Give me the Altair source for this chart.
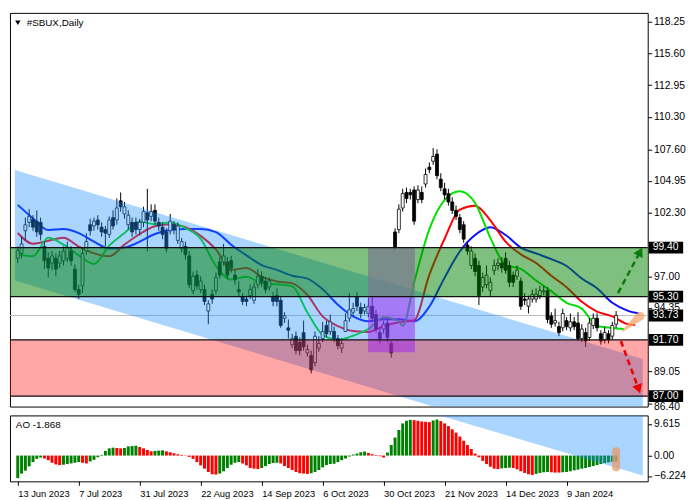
import altair as alt
import pandas as pd

FONT = "Liberation Sans"
FS = 10.5
W = 648
H_MAIN = 400
H_AO = 67

title_text = "#SBUX,Daily"
ao_text = "AO -1.868"
date_labels = ["13 Jun 2023", "7 Jul 2023", "31 Jul 2023", "22 Aug 2023", "14 Sep 2023",
               "6 Oct 2023", "30 Oct 2023", "21 Nov 2023", "14 Dec 2023", "9 Jan 2024"]
date_ticks = [0, 16, 32, 48, 64, 80, 96, 112, 128, 144]

price_ticks = [118.25, 115.60, 112.95, 110.30, 107.60, 104.95, 102.30, 97.00, 94.35, 89.05, 86.40]
ao_ticks = [9.615, 0.0, -6.224]

open_ = [98.5, 98.9, 100.8, 101.5, 101.75, 101.6, 101.5, 99.5, 98.5, 98.1,
         98.5, 98.1, 98.3, 98.5, 99.1, 97.6, 95.9, 96.2, 99.1, 101.3,
         101.2, 101.7, 101.1, 100.9, 100.5, 101.9, 101.7, 103.3, 102.2, 101.3,
         101.5, 101.5, 100.9, 101.5, 102.3, 102.0, 102.5, 101.5, 101.1, 100.7,
         100.8, 101.3, 100.0, 99.3, 99.5, 98.7, 95.8, 97.1, 95.9, 95.9,
         94.1, 95.5, 95.8, 98.2, 98.2, 98.2, 98.3, 97.1, 95.9, 95.3,
         95.1, 95.4, 95.0, 96.3, 97.0, 96.6, 96.1, 95.3, 95.4, 95.0,
         93.5, 92.7, 91.3, 92.0, 91.5, 92.3, 90.6, 90.4, 89.8, 91.0,
         91.8, 92.9, 92.4, 92.4, 91.8, 91.0, 92.4, 93.5, 94.0, 95.3,
         94.4, 94.1, 93.9, 94.5, 93.8, 92.3, 92.6, 93.1, 91.4, 100.7,
         100.9, 102.7, 104.0, 104.0, 104.2, 103.4, 104.0, 104.7, 106.1, 106.6,
         107.2, 105.1, 104.3, 103.9, 103.2, 102.5, 101.9, 101.3, 99.6, 97.9,
         98.5, 97.9, 96.1, 96.3, 95.8, 97.5, 97.9, 98.1, 98.5, 97.9,
         97.1, 97.0, 96.6, 95.1, 94.5, 95.1, 95.1, 95.4, 95.7, 95.8,
         93.7, 93.1, 92.8, 92.7, 93.3, 92.7, 93.2, 93.1, 91.8, 92.3,
         91.9, 92.9, 93.5, 92.2, 91.7, 92.2, 92.0, 93.0]
close_ = [99.15, 99.7, 101.3, 102.0, 101.1, 100.7, 100.5, 98.3, 97.7, 98.7,
          97.6, 98.7, 99.1, 99.4, 98.3, 95.9, 95.5, 98.9, 99.9, 100.8,
          101.6, 101.3, 100.7, 100.6, 101.7, 101.2, 102.7, 102.8, 102.8, 102.1,
          100.7, 100.9, 101.5, 102.4, 101.7, 102.4, 101.6, 101.2, 100.5, 99.3,
          101.6, 100.9, 101.2, 99.9, 98.8, 96.3, 97.0, 96.2, 96.6, 94.9,
          94.7, 95.1, 96.9, 97.1, 98.7, 97.1, 97.7, 96.7, 95.7, 94.9,
          94.9, 95.9, 96.1, 97.0, 96.5, 95.9, 96.6, 94.9, 94.9, 92.9,
          93.7, 92.5, 91.8, 90.8, 90.8, 91.1, 90.9, 89.2, 92.0, 91.4,
          92.4, 92.2, 93.2, 91.8, 91.2, 91.4, 93.3, 94.2, 94.3, 94.5,
          93.9, 94.4, 94.5, 93.5, 92.6, 91.8, 93.0, 91.9, 90.6, 99.4,
          102.6, 103.9, 103.5, 103.8, 101.6, 104.2, 103.4, 105.5, 105.9, 107.0,
          105.4, 104.4, 103.8, 103.2, 102.5, 102.0, 100.9, 100.1, 99.1, 99.1,
          97.4, 95.4, 96.9, 97.1, 96.5, 97.9, 98.1, 97.7, 97.5, 96.5,
          96.5, 97.5, 94.5, 95.0, 95.1, 95.5, 95.5, 95.8, 95.8, 93.4,
          93.0, 93.3, 92.3, 93.9, 92.8, 93.2, 92.8, 91.8, 92.6, 91.6,
          93.1, 93.5, 92.7, 91.6, 92.3, 91.7, 92.9, 93.73]
high_ = [99.5, 100.3, 101.9, 102.6, 102.1, 102.5, 101.9, 99.9, 99.0, 99.1,
         98.9, 99.1, 99.5, 99.9, 99.5, 98.0, 96.3, 99.4, 100.6, 101.8,
         101.9, 102.1, 101.5, 101.2, 102.0, 102.5, 103.5, 104.0, 103.2, 102.5,
         101.9, 101.9, 101.8, 102.8, 104.3, 103.0, 103.0, 101.9, 101.5, 101.0,
         102.2, 101.6, 101.5, 100.2, 99.9, 99.1, 97.4, 97.5, 97.0, 96.3,
         95.0, 95.9, 97.3, 98.6, 99.7, 98.6, 98.7, 97.5, 96.6, 95.6,
         95.4, 96.3, 96.5, 97.6, 97.4, 96.9, 96.9, 95.7, 96.0, 95.3,
         94.0, 93.4, 92.2, 92.4, 91.9, 93.3, 91.3, 90.8, 92.4, 92.0,
         93.2, 93.3, 93.8, 92.8, 92.1, 91.8, 93.9, 95.6, 94.8, 95.7,
         94.8, 94.7, 95.2, 95.3, 94.2, 92.7, 93.3, 93.5, 91.6, 101.0,
         103.0, 104.3, 104.4, 104.3, 104.5, 104.6, 104.5, 106.0, 106.5, 107.7,
         107.6, 105.6, 104.8, 104.3, 103.6, 102.9, 102.2, 101.6, 99.9, 99.5,
         98.9, 98.3, 97.3, 97.9, 96.9, 98.4, 98.5, 98.6, 99.0, 98.3,
         97.4, 97.9, 96.9, 95.6, 95.4, 95.9, 96.0, 96.2, 96.2, 96.1,
         94.0, 94.3, 93.2, 94.3, 93.6, 93.9, 93.6, 94.0, 93.0, 92.7,
         93.5, 93.9, 93.9, 92.5, 92.8, 92.5, 93.2, 94.1]
low_ = [98.1, 98.5, 100.0, 101.1, 100.8, 100.3, 100.0, 97.6, 96.9, 97.5,
        97.0, 97.7, 97.9, 98.2, 97.9, 95.7, 95.1, 95.6, 98.8, 100.4,
        100.8, 100.9, 100.3, 99.5, 100.2, 100.9, 101.3, 102.4, 101.8, 100.9,
        100.3, 100.5, 100.4, 101.1, 99.1, 101.6, 101.3, 100.8, 100.1, 99.0,
        100.5, 100.5, 99.7, 99.0, 98.4, 96.0, 95.5, 95.9, 95.6, 94.6,
        93.0, 94.7, 95.5, 96.8, 97.9, 96.8, 97.3, 96.3, 95.3, 94.6,
        94.5, 95.1, 94.7, 96.0, 96.1, 95.6, 95.8, 94.5, 94.5, 92.7,
        93.1, 91.8, 91.0, 90.5, 90.4, 90.8, 90.3, 88.9, 89.5, 90.7,
        91.5, 91.9, 92.1, 91.5, 90.9, 90.6, 92.4, 93.2, 93.7, 94.1,
        93.5, 93.8, 93.6, 93.2, 92.3, 91.4, 92.2, 91.5, 90.2, 99.2,
        100.6, 102.4, 103.1, 103.4, 101.3, 103.1, 103.1, 104.4, 105.6, 106.3,
        105.1, 104.1, 103.4, 102.9, 102.2, 101.7, 100.6, 99.8, 98.8, 97.6,
        97.0, 94.6, 95.7, 96.0, 95.3, 97.1, 97.5, 97.3, 97.2, 96.1,
        96.1, 96.7, 94.2, 94.6, 93.9, 94.8, 94.8, 95.1, 95.4, 93.1,
        92.7, 92.8, 92.0, 92.4, 92.5, 92.4, 92.5, 91.6, 91.5, 91.1,
        91.6, 92.6, 92.4, 91.3, 91.4, 91.4, 91.7, 92.7]

ao_values = [-6.9, -5.5, -4.6, -3.3, -2.0, -1.0, -0.6, -0.9, -1.4, -2.2,
             -2.7, -2.9, -2.8, -2.6, -2.4, -2.2, -2.0, -2.2, -2.4, -1.8,
             -1.3, -0.5, 0.2, 1.4, 2.2, 2.4, 2.3, 2.2, 2.3, 2.8,
             2.9, 3.0, 2.6, 2.2, 1.7, 1.3, 1.4, 1.5, 1.6, 1.3,
             1.0, 0.7, 0.4, 0.2, -0.1, -0.4, -1.0, -2.0, -3.0, -4.0,
             -5.0, -5.7, -5.8, -5.5, -4.8, -3.8, -2.8, -2.2, -2.0, -2.4,
             -3.0, -3.8, -4.0, -4.1, -3.8, -3.2, -2.6, -2.3, -2.2, -2.4,
             -3.2, -3.8, -4.4, -5.0, -5.4, -5.5, -5.6, -5.4, -5.0, -4.4,
             -3.6, -2.9, -2.6, -2.5, -2.0, -1.4, -0.9, -0.3, 0.3, 0.6,
             1.0, 1.2, 0.8, 0.4, 0.2, -0.2, -0.6, 0.9, 3.2, 5.5,
             7.8, 9.8, 10.6, 10.9, 10.8, 10.6, 10.4, 10.3, 10.2, 10.7,
             11.0, 10.5, 9.8, 9.0, 8.0, 7.0, 5.8, 4.5, 3.2, 2.0,
             0.6, -0.5, -1.6, -2.6, -3.4, -4.0, -4.1, -3.9, -3.8, -3.7,
             -3.8, -4.2, -4.8, -5.3, -5.7, -5.9, -5.6, -5.3, -5.1, -5.0,
             -5.1, -5.2, -5.2, -5.1, -5.0, -4.8, -4.5, -4.3, -4.0, -3.8,
             -3.5, -3.2, -2.9, -2.6, -2.3, -2.1, -1.9, -1.868]

jaw_i = list(range(0, 161, 4)) + [163]
jaw_v = [102.96, 101.83, 100.86, 100.94, 100.61, 99.89, 99.32, 99.40, 99.89, 100.53,
         100.86, 100.94, 100.94, 100.69, 99.64, 98.75, 97.94, 97.54, 97.05, 96.81,
         95.92, 94.63, 93.66, 93.25, 93.41, 93.41, 93.25, 94.47, 96.89, 99.08,
         100.45, 101.10, 100.45, 99.40, 98.91, 98.43, 97.86, 96.81, 96.00, 94.79,
         94.14, 93.90]
teeth_i = list(range(0, 161, 4)) + [162]
teeth_v = [100.61, 99.72, 99.97, 100.21, 99.48, 98.91, 98.67, 99.64, 100.53, 101.18,
           101.34, 101.10, 100.37, 99.24, 97.54, 97.70, 96.97, 96.57, 96.41, 95.44,
           93.66, 92.85, 92.44, 92.36, 92.85, 93.17, 93.33, 97.14, 100.13, 102.56,
           102.88, 101.67, 99.89, 98.83, 98.11, 97.05, 96.08, 94.87, 94.06, 93.66,
           93.01, 92.93]
lips_i = list(range(0, 101, 4)) + [101] + list(range(104, 157, 4)) + [159]
lips_v = [98.83, 98.67, 100.21, 99.64, 98.75, 98.02, 99.56, 100.61, 101.58, 101.34,
          101.50, 101.02, 100.13, 97.86, 96.73, 96.97, 96.41, 96.33, 96.16, 93.98,
          92.12, 91.71, 92.04, 92.60, 93.58, 93.25, 92.85, 96.49, 100.94, 103.36,
          104.09, 103.12, 100.21, 97.94, 97.62, 96.65, 95.76, 94.79, 94.30, 92.85,
          92.69, 92.60]

# annotation levels and zones (price units)
level_lines = [99.40, 95.30, 91.70, 87.00]
level_boxes = [99.40, 95.30, 93.73, 91.70, 87.00]
last_price = [93.73]
green_zone = [95.30, 99.40]
red_zone = [87.00, 91.70]
box_i = [91.9, 104.2]
gray_zone = [95.30, 99.40]
purple_zone = [90.66, 95.30]
channel_i = [-0.75, 164]
channel_top = [105.87, 90.09]
channel_bot = [96.65, 80.87]
channel_ao_i = [100, 164]
channel_ao_lo = [15.9, -6.1]
channel_ao_hi = [20, 20]
up_arrow_i = [157.5, 163.3]
up_arrow_v = [95.6, 99.05]
dn_arrow_i = [158.25, 162.9]
dn_arrow_v = [91.6, 87.6]
wedge_i = [158.75, 163.3]
wedge_v = [92.44, 93.68]
wedge_w = [1.5, 9]
ao_mark = [1.3, -3.6]

# ---------------- data frames ----------------
n = len(close_)
cdf = pd.DataFrame({"i": list(range(n)), "o": open_, "c": close_, "h": high_, "l": low_})
cdf["dir"] = ["up" if c >= o else "down" for o, c in zip(open_, close_)]

ma = pd.concat([
    pd.DataFrame({"i": jaw_i, "v": jaw_v, "s": "jaw"}),
    pd.DataFrame({"i": teeth_i, "v": teeth_v, "s": "teeth"}),
    pd.DataFrame({"i": lips_i, "v": lips_v, "s": "lips"}),
])

aodf = pd.DataFrame({"i": list(range(len(ao_values))), "v": ao_values})
aodf["col"] = ["g" if k == 0 or ao_values[k] > ao_values[k - 1] else "r" for k in range(len(ao_values))]

XS = alt.Scale(domain=[-0.75, 164], nice=False, zero=False)
YS = alt.Scale(domain=[86.13, 118.98], nice=False, zero=False)
AOS = alt.Scale(domain=[-7.87, 12.24], nice=False, zero=False)

xq = alt.X("i:Q", scale=XS, axis=None)
yaxis = alt.Axis(orient="right", values=price_ticks, format=".2f", tickSize=4, labelPadding=2,
                 title=None, grid=False, domain=False, labelOverlap=False,
                 labelOffset={"condition": [{"test": "datum.value == 94.35", "value": -1},
                                            {"test": "datum.value == 86.4", "value": 3}],
                              "value": 0})


def Yp(field):
    return alt.Y(field, scale=YS, axis=yaxis, title=None)


base_price = alt.Chart(pd.DataFrame({"v": last_price})).mark_rule(color="#bdbdbd", strokeWidth=1).encode(
    y=Yp("v:Q"))

ma_lines = alt.Chart(ma).mark_line(strokeWidth=2, interpolate="monotone").encode(
    x=xq, y=Yp("v:Q"),
    stroke=alt.Stroke("s:N", scale=alt.Scale(domain=["jaw", "teeth", "lips"],
                                             range=["#0a10ff", "#ff0000", "#00e000"]), legend=None))

wicks = alt.Chart(cdf).mark_rule(color="black", strokeWidth=1).encode(
    x=xq, y=Yp("l:Q"), y2="h:Q")

bodies = alt.Chart(cdf).mark_bar(size=3, stroke="black", strokeWidth=0.8).encode(
    x=xq, y=Yp("o:Q"), y2="c:Q",
    fill=alt.Fill("dir:N", scale=alt.Scale(domain=["up", "down"], range=["white", "black"]), legend=None))

channel = alt.Chart(pd.DataFrame({"i": channel_i, "t": channel_top, "b": channel_bot})).mark_area(
    color="#1e90ff", opacity=0.38, clip=True).encode(
    x=xq, y=Yp("t:Q"), y2="b:Q")

gz = alt.Chart(pd.DataFrame({"a": [green_zone[0]], "b": [green_zone[1]]})).mark_rect(
    color="#008000", opacity=0.5).encode(y=Yp("a:Q"), y2="b:Q")
rz = alt.Chart(pd.DataFrame({"a": [red_zone[0]], "b": [red_zone[1]]})).mark_rect(
    color="#ff0000", opacity=0.35).encode(y=Yp("a:Q"), y2="b:Q")
grayz = alt.Chart(pd.DataFrame({"x1": [box_i[0]], "x2": [box_i[1]], "a": [gray_zone[0]], "b": [gray_zone[1]]})).mark_rect(
    color="#787890", opacity=0.7).encode(x=alt.X("x1:Q", scale=XS, axis=None), x2="x2:Q", y=Yp("a:Q"), y2="b:Q")
purz = alt.Chart(pd.DataFrame({"x1": [box_i[0]], "x2": [box_i[1]], "a": [purple_zone[0]], "b": [purple_zone[1]]})).mark_rect(
    color="#a020f0", opacity=0.5).encode(x=alt.X("x1:Q", scale=XS, axis=None), x2="x2:Q", y=Yp("a:Q"), y2="b:Q")

lvl = alt.Chart(pd.DataFrame({"v": level_lines})).mark_rule(color="#111111", strokeWidth=1.2).encode(
    y=Yp("v:Q"))

wedge = alt.Chart(pd.DataFrame({"i": wedge_i, "v": wedge_v, "w": wedge_w})).mark_trail(
    color="#f4a46a", opacity=0.75).encode(
    x=xq, y=Yp("v:Q"), size=alt.Size("w:Q", scale=None, legend=None))

up_line = alt.Chart(pd.DataFrame({"i": up_arrow_i, "v": up_arrow_v})).mark_line(
    color="#0a7a0a", strokeWidth=2.5, strokeDash=[6, 4]).encode(x=xq, y=Yp("v:Q"))
up_head = alt.Chart(pd.DataFrame({"i": up_arrow_i[-1:], "v": up_arrow_v[-1:]})).mark_point(
    shape="triangle-up", filled=True, color="#0a7a0a", size=110, angle=28, opacity=1).encode(
    x=xq, y=Yp("v:Q"))
dn_line = alt.Chart(pd.DataFrame({"i": dn_arrow_i, "v": dn_arrow_v})).mark_line(
    color="#ee0000", strokeWidth=2.5, strokeDash=[6, 4]).encode(x=xq, y=Yp("v:Q"))
dn_head = alt.Chart(pd.DataFrame({"i": dn_arrow_i[-1:], "v": dn_arrow_v[-1:]})).mark_point(
    shape="triangle-up", filled=True, color="#ee0000", size=110, angle=161, opacity=1).encode(
    x=xq, y=Yp("v:Q"))

box_df = pd.DataFrame({"v": level_boxes, "t": [f"{v:.2f}" for v in level_boxes]})
boxes = alt.Chart(box_df).mark_rule(color="black", strokeWidth=12).encode(
    x=alt.value(W + 1), x2=alt.value(W + 36), y=Yp("v:Q"))
box_txt = alt.Chart(box_df).mark_text(align="left", baseline="middle", color="white",
                                      font=FONT, fontSize=FS).encode(
    x=alt.value(W + 5), y=Yp("v:Q"), text="t:N")

title_mark = alt.Chart(pd.DataFrame({"t": [title_text]})).mark_text(
    align="left", baseline="middle", font=FONT, fontSize=10, color="black").encode(
    x=alt.value(17), y=alt.value(10), text="t:N")
title_tri = alt.Chart(pd.DataFrame({"t": [title_text]})).mark_point(
    shape="triangle-down", filled=True, color="black", size=30, opacity=1).encode(
    x=alt.value(8), y=alt.value(10))

main = alt.layer(base_price, ma_lines, wicks, bodies, channel, gz, rz, grayz, purz, lvl,
                 wedge, up_line, up_head, dn_line, dn_head, boxes, box_txt, title_mark, title_tri
                 ).properties(width=W, height=H_MAIN)

# ---------------- AO panel ----------------
label_arr = "[" + ",".join(f"'{d}'" for d in date_labels) + "]"
xaxis = alt.Axis(values=date_ticks, labelExpr=label_arr + "[round(datum.value/16)]", labelAlign="left",
                 tickSize=4, labelPadding=3, title=None, grid=False, domain=False, labelFontSize=9.5,
                 labelFlush=False, labelOverlap=False)
aoaxis = alt.Axis(orient="right", values=ao_ticks, tickSize=4, labelPadding=2, title=None, grid=False,
                  domain=False, labelOverlap=False,
                  labelExpr="datum.value == 0 ? '0.00' : format(datum.value, '.3f')")


def Xa(field):
    return alt.X(field, scale=XS, axis=xaxis, title=None)


def Ya(field):
    return alt.Y(field, scale=AOS, axis=aoaxis, title=None)


ao_bars = alt.Chart(aodf).mark_bar(size=3).encode(
    x=Xa("i:Q"), y=Ya("v:Q"), y2=alt.datum(0),
    fill=alt.Fill("col:N", scale=alt.Scale(domain=["g", "r"], range=["#008000", "#ff0000"]), legend=None))

ao_channel = alt.Chart(pd.DataFrame({"i": channel_ao_i, "lo": channel_ao_lo, "hi": channel_ao_hi})).mark_area(
    color="#1e90ff", opacity=0.38, clip=True).encode(
    x=Xa("i:Q"), y=Ya("lo:Q"), y2="hi:Q")

ao_blob = alt.Chart(pd.DataFrame({"i": [len(ao_values) - 1], "a": [ao_mark[0]], "b": [ao_mark[1]]})).mark_rule(
    color="#e89a68", strokeWidth=8, strokeCap="round", opacity=0.75).encode(
    x=Xa("i:Q"), y=Ya("a:Q"), y2="b:Q")

ao_label = alt.Chart(pd.DataFrame({"t": [ao_text]})).mark_text(
    align="left", baseline="middle", font=FONT, fontSize=10, color="black").encode(
    x=alt.value(6), y=alt.value(10), text="t:N")

ao_panel = alt.layer(ao_bars, ao_channel, ao_blob, ao_label).properties(width=W, height=H_AO)

chart = alt.vconcat(main, ao_panel, spacing=2,
                    padding={"left": 0, "top": 0, "right": 2, "bottom": 0}).resolve_scale(
    fill="independent", stroke="independent", color="independent").configure_view(
    stroke="black", strokeWidth=1).configure_axis(
    labelFont=FONT, labelFontSize=FS, labelColor="black", tickColor="black")

chart.save("out.html", embed_options={"renderer": "svg", "actions": False})
